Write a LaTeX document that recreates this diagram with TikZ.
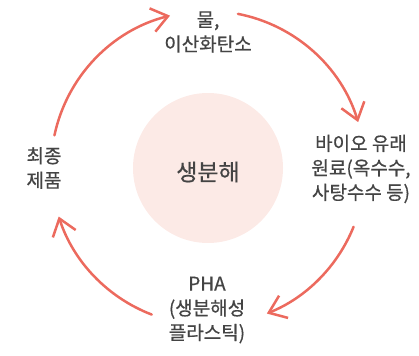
\documentclass[tikz,border=0pt]{standalone}
\usepackage{fontspec}
\setmainfont{Noto Sans CJK KR}[FakeBold=0.6]
\usetikzlibrary{arrows.meta}
\definecolor{arr}{HTML}{EC6A5E}
\definecolor{txt}{HTML}{444444}
\definecolor{disc}{HTML}{FCEAE6}
\begin{document}
\begin{tikzpicture}[x=1pt,y=1pt,
  lbl/.style={text=txt, font=\fontsize{19}{24.5}\selectfont, align=center, inner sep=0pt},
  cyc/.style={draw=arr, line width=2.5pt, line cap=round, line join=round,
    -{Straight Barb[length=16pt,width=24pt]}}]
\useasboundingbox (0,0) rectangle (419,355);
\coordinate (C) at (208,187);
\node[circle, fill=disc, minimum size=150pt, inner sep=0pt] (core) at (208,187) {};
\node[text=txt, font=\fontsize{23}{24}\selectfont, inner sep=0pt] (bio) at (208,183) {생분해};
\node[lbl] (water) at (208,323) {물,\\이산화탄소};
\node[lbl] (raw) at (361,186) {바이오 유래\\원료(옥수수,\\사탕수수 등)};
\node[lbl] (pha) at (207,45) {PHA\\(생분해성\\플라스틱)};
\node[lbl] (prod) at (44,187) {최종\\제품};
\path (C) ++(168:157) coordinate (a1);
\path (C) ++(79:157) coordinate (a2);
\path (C) ++(-22:157) coordinate (a3);
\path (C) ++(-111:157) coordinate (a4);
\draw[cyc] (a1) arc[start angle=168, end angle=104, radius=157];
\draw[cyc] (a2) arc[start angle=79, end angle=17, radius=157];
\draw[cyc] (a3) arc[start angle=-22, end angle=-68, radius=157];
\draw[cyc] (a4) arc[start angle=-111, end angle=-162, radius=157];
\end{tikzpicture}
\end{document}
